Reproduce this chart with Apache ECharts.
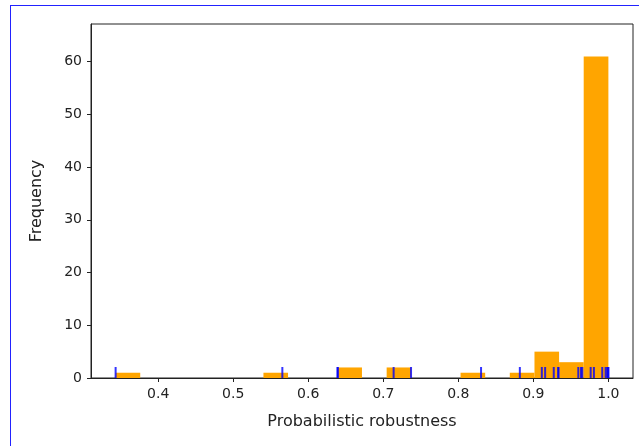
<!DOCTYPE html>
<html>
<head>
<meta charset="utf-8">
<script src="https://cdn.jsdelivr.net/npm/echarts@6/dist/echarts.min.js"></script>
<style>
  html, body { margin: 0; padding: 0; background: #fff; }
  #wrap { position: relative; width: 639px; height: 446px; }
  #frame {
    position: absolute; left: 10px; top: 5px; right: 0; bottom: 0;
    border-left: 1px solid #2222ff; border-top: 1px solid #2222ff;
  }
  #chart { position: absolute; left: 0; top: 0; width: 639px; height: 446px; }
</style>
</head>
<body>
<div id="wrap">
  <div id="frame"></div>
  <div id="chart"></div>
</div>
<script>
// histogram bin edges (20 bins) and their counts
const binEdges = [0.3433, 0.3761, 0.4090, 0.4418, 0.4746, 0.5075, 0.5403, 0.5731, 0.6060, 0.6388,
  0.6716, 0.7045, 0.7373, 0.7701, 0.8030, 0.8358, 0.8686, 0.9015, 0.9343, 0.9671, 1.0];
const binCounts = [1, 0, 0, 0, 0, 0, 1, 0, 0, 2, 0, 2, 0, 0, 1, 0, 1, 5, 3, 61];
// individual observations shown as rug marks
const rugValues = [0.3433, 0.5655, 0.6390, 0.6394, 0.7138, 0.7370, 0.8303, 0.8820, 0.9113, 0.9157,
  0.9272, 0.9333, 0.9333, 0.9599, 0.9635, 0.9652, 0.9764, 0.9807, 0.9918, 0.9963, 0.9984, 0.9997, 1.0];
const xTicks = [0.4, 0.5, 0.6, 0.7, 0.8, 0.9, 1.0];
const yTicks = [0, 10, 20, 30, 40, 50, 60];

const histData = binCounts.map((c, i) => [binEdges[i], binEdges[i + 1], c]);
const rugData = rugValues.map(v => [v, 0]);

const chart = echarts.init(document.getElementById("chart"));
const axisColor = "#222";
const font = "DejaVu Sans";

const option = {
  animation: false,
  grid: {
    left: 91, right: 6, top: 24, bottom: 68,
    show: true, borderColor: axisColor, borderWidth: 1, backgroundColor: "transparent"
  },
  xAxis: {
    type: "value",
    min: 0.3105,
    max: 1.0328,
    name: "Probabilistic robustness",
    nameLocation: "middle",
    nameGap: 36,
    nameTextStyle: { fontFamily: font, fontSize: 16, color: axisColor },
    axisLine: { show: true, lineStyle: { color: axisColor, width: 1 } },
    axisTick: { show: true, inside: false, length: 4, customValues: xTicks, lineStyle: { color: axisColor } },
    axisLabel: {
      customValues: xTicks, margin: 9,
      fontFamily: font, fontSize: 14, color: axisColor,
      formatter: v => v.toFixed(1)
    },
    splitLine: { show: false }
  },
  yAxis: {
    type: "value",
    min: 0,
    max: 67.15,
    name: "Frequency",
    nameLocation: "middle",
    nameGap: 46,
    nameTextStyle: { fontFamily: font, fontSize: 16, color: axisColor },
    axisLine: { show: true, lineStyle: { color: axisColor, width: 1 } },
    axisTick: { show: true, inside: false, length: 4, customValues: yTicks, lineStyle: { color: axisColor } },
    axisLabel: {
      customValues: yTicks, margin: 9,
      fontFamily: font, fontSize: 14, color: axisColor
    },
    splitLine: { show: false }
  },
  series: [
    {
      type: "custom",
      data: histData,
      encode: { x: [0, 1], y: 2 },
      renderItem: (params, api) => {
        const p0 = api.coord([api.value(0), api.value(2)]);
        const p1 = api.coord([api.value(1), 0]);
        return {
          type: "rect",
          shape: { x: p0[0], y: p0[1], width: p1[0] - p0[0], height: p1[1] - p0[1] },
          style: { fill: "#ffa500" }
        };
      }
    },
    {
      type: "scatter",
      data: rugData,
      symbol: "rect",
      symbolSize: [2, 11],
      symbolOffset: [0, -5.5],
      itemStyle: { color: "#0000ff" },
      z: 3
    }
  ]
};
chart.setOption(option);
</script>
</body>
</html>
